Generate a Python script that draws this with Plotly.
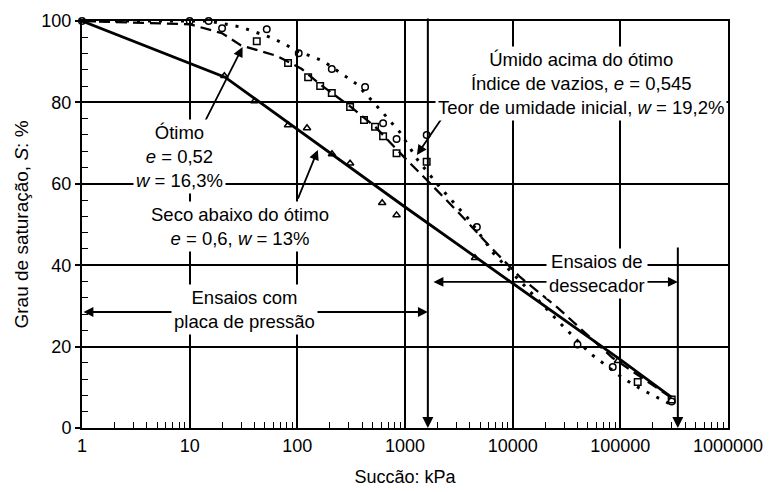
import math
import plotly.graph_objects as go

# Suction (kPa) vs degree of saturation (%) for three compaction states
# Curve: dry of optimum (solid)
seco_x = [1, 21.3, 1000, 10000, 100000, 300000]
seco_y = [100, 86.2, 54.3, 35.5, 16.8, 7.5]
# Curve: optimum (dashed)
otimo_x = [1, 10, 20, 30, 65, 110, 165, 310, 530, 1000, 1700, 3450, 6200, 11700, 25800, 55700, 85000, 300000]
otimo_y = [100, 99.2, 97, 94, 91.4, 88.2, 84.3, 79, 74, 66.3, 60.2, 51.8, 44.5, 37.1, 29.7, 21.6, 17.2, 7.4]
# Curve: wet of optimum (dotted)
umido_x = [1, 15, 30, 59, 103, 173, 277, 356, 626, 895, 1300, 2100, 4000, 6600, 10000, 27500, 52000, 105000, 162000, 300000]
umido_y = [100, 100, 98.5, 95.8, 92.5, 90.2, 86.5, 84.5, 77.4, 72.7, 66, 59.2, 51, 43, 38, 25.8, 18.4, 12.3, 9.3, 5.7]

# Measured points
pts_seco_x = [21, 40, 82, 123, 210, 309, 614, 835, 4470, 95000]
pts_seco_y = [86.5, 80.3, 74.4, 73.7, 67.3, 65, 55.3, 52.3, 41.8, 16.5]
pts_otimo_x = [42, 82, 126, 163, 209, 309, 416, 527, 626, 835, 1590, 145000, 300000]
pts_otimo_y = [95, 89.7, 86.2, 84, 82.3, 78.9, 75.7, 74, 71.7, 67.5, 65.4, 11.3, 7]
pts_umido_x = [1, 10, 15, 20, 52, 103, 209, 426, 626, 835, 1590, 4650, 40000, 85000, 300000]
pts_umido_y = [100, 100, 100, 98.2, 98, 92.1, 88.2, 83.8, 74.9, 71, 72, 49.4, 20.5, 15, 6.5]

x_tickvals = [1, 10, 100, 1000, 10000, 100000, 1000000]
x_ticktext = ["1", "10", "100", "1000", "10000", "100000", "1000000"]
x_minorvals = [m * d for d in x_tickvals[:-1] for m in range(2, 10)]

# Limits of the two test methods (kPa)
placa_lim = 1630
dessec_lim = 342000

FONT = "Liberation Sans, Arial, sans-serif"
lg = math.log10

fig = go.Figure()

fig.add_trace(go.Scatter(x=seco_x, y=seco_y, mode="lines",
                         line=dict(color="black", width=2.8), cliponaxis=False))
fig.add_trace(go.Scatter(x=otimo_x, y=otimo_y, mode="lines",
                         line=dict(color="black", width=2.3, dash="11px,6px"), cliponaxis=False))
fig.add_trace(go.Scatter(x=umido_x, y=umido_y, mode="lines",
                         line=dict(color="black", width=3, dash="3px,8px"), cliponaxis=False))

mk = dict(color="black", size=6.5, line=dict(color="black", width=1.5))
fig.add_trace(go.Scatter(x=pts_seco_x, y=pts_seco_y, mode="markers",
                         marker=dict(symbol="triangle-up-open", **mk), cliponaxis=False))
fig.add_trace(go.Scatter(x=pts_otimo_x, y=pts_otimo_y, mode="markers",
                         marker=dict(symbol="square-open", **mk), cliponaxis=False))
fig.add_trace(go.Scatter(x=pts_umido_x, y=pts_umido_y, mode="markers",
                         marker=dict(symbol="circle-open", **mk), cliponaxis=False))

ann = []


def arrow(x_tip, y_tip, x_tail, y_tail, side="end", width=1.8):
    ann.append(dict(x=lg(x_tip), y=y_tip, ax=lg(x_tail), ay=y_tail,
                    xref="x", yref="y", axref="x", ayref="y", text="",
                    showarrow=True, arrowhead=2, arrowsize=1.1,
                    arrowwidth=width, arrowcolor="black", arrowside=side))


# vertical limits of the test methods
arrow(placa_lim, 0, placa_lim, 101, width=2)
arrow(dessec_lim, 0, dessec_lim, 44.7, width=2)
# ranges of the test methods
arrow(placa_lim, 28.5, 1, 28.5, side="end+start")
arrow(dessec_lim, 35.9, 1780, 35.9, side="end+start")
# pointers to the curves
arrow(31, 93.6, 13.8, 75.2)
arrow(155, 68.3, 100, 56)
arrow(1290, 67.1, 2240, 76.4)


def label(text, x, y):
    ann.append(dict(x=lg(x), y=y, xref="x", yref="y", text=text, showarrow=False,
                    font=dict(family=FONT, size=18.5, color="black"),
                    bgcolor="white", borderpad=2, align="center"))


label("Ótimo<br><i>e</i> = 0,52<br><i>w</i> = 16,3%", 8.1, 66.6)
label("Seco abaixo do ótimo<br><i>e</i> = 0,6, <i>w</i> = 13%", 29.5, 49.5)
label("Ensaios com<br>placa de pressão", 32, 29.2)
label("Ensaios de<br>dessecador", 61000, 38)
label("Úmido acima do ótimo<br>Índice de vazios, <i>e</i> = 0,545<br>"
      "Teor de umidade inicial, <i>w</i> = 19,2%", 43500, 84.6)

fig.update_layout(
    width=771, height=492,
    margin=dict(l=82, r=43, t=21, b=64),
    paper_bgcolor="white", plot_bgcolor="white",
    showlegend=False,
    font=dict(family=FONT, size=18, color="black"),
    annotations=ann,
)

fig.update_xaxes(
    type="log", range=[0, 6], automargin=False,
    tickvals=x_tickvals, ticktext=x_ticktext,
    showgrid=True, gridcolor="black", gridwidth=1.5,
    showline=True, linecolor="black", linewidth=2, mirror=True,
    ticks="", tickfont=dict(size=18),
    minor=dict(ticks="inside", ticklen=6, tickwidth=1.3, tickcolor="black",
               tickmode="array", tickvals=x_minorvals, showgrid=False),
    title=dict(text="Succão: kPa", font=dict(size=18), standoff=16),
    zeroline=False,
)
fig.update_yaxes(
    range=[0, 100], automargin=False,
    tickmode="linear", tick0=0, dtick=20,
    showgrid=True, gridcolor="black", gridwidth=1.5,
    showline=True, linecolor="black", linewidth=2, mirror=True,
    ticks="outside", ticklen=5, tickwidth=1.5, tickcolor="black",
    tickfont=dict(size=18),
    minor=dict(ticks="inside", ticklen=6, tickwidth=1.3, tickcolor="black",
               tickmode="linear", tick0=0, dtick=4, showgrid=False),
    title=dict(text="Grau de saturação, <i>S</i>: %", font=dict(size=19), standoff=8),
    zeroline=False,
)

fig.write_html("out.html")
